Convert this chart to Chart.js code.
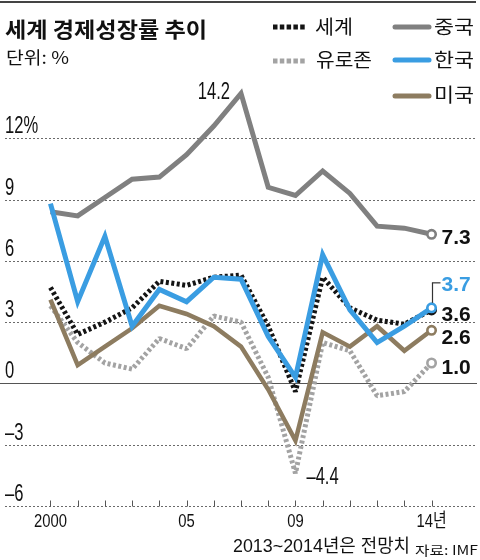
<!DOCTYPE html>
<html><head><meta charset="utf-8">
<script src="https://cdn.jsdelivr.net/npm/chart.js@4.4.1/dist/chart.umd.min.js"></script>
<style>html,body{margin:0;padding:0;background:#fff}canvas{display:block}</style>
</head><body>
<canvas id="c" width="480" height="560"></canvas>
<script>
// ---- data ----
const years = [2000, 2001, 2002, 2003, 2004, 2005, 2006, 2007, 2008, 2009, 2010, 2011, 2012, 2013, 2014];
const world = [4.7, 2.4, 3.0, 3.7, 5.0, 4.8, 5.2, 5.3, 2.8, -0.4, 5.2, 3.7, 3.1, 2.9, 3.6];
const euro  = [3.8, 2.0, 1.0, 0.7, 2.2, 1.7, 3.3, 3.0, 0.3, -4.4, 2.0, 1.6, -0.6, -0.4, 1.0];
const china = [8.4, 8.2, 9.1, 10.0, 10.1, 11.2, 12.6, 14.2, 9.6, 9.2, 10.4, 9.3, 7.7, 7.6, 7.3];
const korea = [8.8, 4.0, 7.2, 2.8, 4.6, 4.0, 5.2, 5.1, 2.3, 0.3, 6.3, 3.6, 2.0, 2.8, 3.7];
const usa   = [4.1, 0.9, 1.8, 2.7, 3.8, 3.4, 2.8, 1.8, -0.3, -2.8, 2.5, 1.8, 2.8, 1.6, 2.6];
const seriesNames = ['세계', '유로존', '중국', '한국', '미국'];
const yTicks = [-6, -3, 0, 3, 6, 9, 12];
const yTickLabels = ['–6', '–3', '0', '3', '6', '9', '12%'];
const xLabelYears = [2000, 2005, 2009, 2014];
const xLabelTexts = ['2000', '05', '09', '14년'];
const titleText = '세계 경제성장률 추이';
const unitText = '단위: %';
const noteText = '2013~2014년은 전망치';
const sourceText = '자료: IMF';

// ---- style ----
const C = {world:'#141414', euro:'#a3a3a3', china:'#808080', korea:'#3a9de2', usa:'#8d7c60'};
const NUM = "'Liberation Sans', 'Noto Sans CJK KR', sans-serif";
const KR = "'Noto Sans CJK KR', sans-serif";
const DOT = [3, 2.5];

function txt(ctx, s, x, y, font, color, align, sx, baseline) {
  ctx.save();
  ctx.font = font; ctx.fillStyle = color; ctx.textBaseline = baseline || 'alphabetic';
  ctx.textAlign = 'left';
  const w = ctx.measureText(s).width * sx;
  const x0 = align === 'left' ? x : align === 'right' ? x - w : x - w / 2;
  ctx.translate(x0, y); ctx.scale(sx, 1);
  ctx.fillText(s, 0, 0);
  ctx.restore();
}
function fit(ctx, s, x, y, font, color, width, baseline) {
  ctx.save(); ctx.font = font; const w = ctx.measureText(s).width; ctx.restore();
  txt(ctx, s, x, y, font, color, 'left', width / w, baseline);
}
function seg(ctx, x1, y1, x2, y2, color, w, dash, cap) {
  ctx.save(); ctx.strokeStyle = color; ctx.lineWidth = w; ctx.setLineDash(dash || []);
  ctx.lineCap = cap || 'butt';
  ctx.beginPath(); ctx.moveTo(x1, y1); ctx.lineTo(x2, y2); ctx.stroke(); ctx.restore();
}

const pts = arr => years.map((yr, i) => ({x: yr, y: arr[i]}));
const last = years.length - 1;
function ds(label, arr, color, width, dash, order) {
  return {
    label, data: pts(arr), borderColor: color, borderWidth: width, borderDash: dash || [],
    borderJoinStyle: dash ? 'bevel' : 'miter', borderCapStyle: 'butt', tension: 0, order,
    pointRadius: c => c.dataIndex === last ? 4.2 : 0,
    pointHoverRadius: 0, pointBorderWidth: 2.6, pointBorderColor: color,
    pointBackgroundColor: '#fff', fill: false
  };
}

const decor = {
  id: 'decor',
  beforeDatasetsDraw(chart) {
    const {ctx, scales: {x, y}} = chart;
    yTicks.forEach((v, i) => {
      const py = Math.round(y.getPixelForValue(v)) + 0.5;
      if (v === 0) seg(ctx, 0, py, 477, py, '#555', 1.2);
      else seg(ctx, 5, py, 477, py, '#6a6a6a', 1, [2, 2]);
      txt(ctx, yTickLabels[i], 5, py - 5.5, '23px ' + NUM, '#111', 'left', 0.72);
    });
    const by = Math.round(y.getPixelForValue(-6)) + 0.5;
    years.forEach(yr => {
      const px = Math.round(x.getPixelForValue(yr)) + 0.5;
      seg(ctx, px, by, px, by - 6, '#555', 1);
    });
    xLabelYears.forEach((yr, i) => {
      txt(ctx, xLabelTexts[i], x.getPixelForValue(yr), 527, '19px ' + NUM, '#111', 'center', 0.78);
    });
  },
  afterDatasetsDraw(chart) {
    const {ctx, scales: {x, y}} = chart;
    const ex = x.getPixelForValue(years[last]);
    const lab = (arr, dy, color) => {
      const v = arr[last];
      txt(ctx, v.toFixed(1), ex + 10, y.getPixelForValue(v) + dy, 'bold 21px ' + NUM, color, 'left', 1.0);
    };
    lab(china, 9.5, '#111');
    lab(korea, -17, C.korea);
    lab(world, 11.5, '#111');
    lab(usa, 14, '#111');
    lab(euro, 10.5, '#111');
    // bracket for Korea label
    const ky = y.getPixelForValue(korea[last]);
    const bx = Math.round(ex) + 0.5;
    seg(ctx, bx, ky - 25, bx, ky - 5, '#333', 1.2);
    seg(ctx, bx - 0.6, ky - 25, bx + 8, ky - 25, '#333', 1.2);
    // China peak
    const ci = china.indexOf(Math.max(...china));
    txt(ctx, china[ci].toFixed(1), x.getPixelForValue(years[ci]) - 11, y.getPixelForValue(china[ci]) + 6,
        '23px ' + NUM, '#111', 'right', 0.72);
    // Euro trough
    const mv = Math.min(...euro), ei = euro.indexOf(mv);
    txt(ctx, '–' + Math.abs(mv).toFixed(1), x.getPixelForValue(years[ei]) + 11, y.getPixelForValue(mv) + 10.5,
        '23px ' + NUM, '#111', 'left', 0.72);
  },
  afterDraw(chart) {
    const ctx = chart.ctx;
    ctx.save(); ctx.fillStyle = '#444'; ctx.fillRect(0, 1, 476, 2); ctx.restore();
    fit(ctx, titleText, 5, 29, 'bold 21px ' + KR, '#111', 202, 'middle');
    fit(ctx, unitText, 6, 58, '17px ' + KR, '#111', 63, 'middle');
    // legend
    seg(ctx, 273, 27, 306, 27, C.world, 5, [4.5, 2.3]);
    seg(ctx, 273, 61, 306, 61, C.euro, 5, [4.5, 2.3]);
    seg(ctx, 395, 27, 429, 27, C.china, 5, [], 'round');
    seg(ctx, 395, 60, 429, 60, C.korea, 5, [], 'round');
    seg(ctx, 395, 96, 429, 96, C.usa, 5, [], 'round');
    fit(ctx, seriesNames[0], 315, 27, '19px ' + KR, '#111', 38, 'middle');
    fit(ctx, seriesNames[1], 316, 60, '19px ' + KR, '#111', 56, 'middle');
    fit(ctx, seriesNames[2], 434, 27, '19px ' + KR, '#111', 40, 'middle');
    fit(ctx, seriesNames[3], 434, 60, '19px ' + KR, '#111', 40, 'middle');
    fit(ctx, seriesNames[4], 434, 95, '19px ' + KR, '#111', 40, 'middle');
    // footer
    fit(ctx, noteText, 233, 547, '18px ' + NUM, '#111', 177, 'middle');
    fit(ctx, sourceText, 415, 550, '13px ' + KR, '#111', 63, 'middle');
  }
};

new Chart(document.getElementById('c'), {
  type: 'line',
  data: {
    datasets: [
      ds(seriesNames[3], korea, C.korea, 5, null, 0),
      ds(seriesNames[0], world, C.world, 5, DOT, 1),
      ds(seriesNames[2], china, C.china, 5, null, 2),
      ds(seriesNames[4], usa, C.usa, 4.5, null, 3),
      ds(seriesNames[1], euro, C.euro, 5, DOT, 4)
    ]
  },
  options: {
    responsive: false, animation: false, devicePixelRatio: 1,
    layout: {padding: {left: 5, right: 5, top: 77, bottom: 54}},
    scales: {
      x: {type: 'linear', display: false, min: 1998.396, max: 2015.53},
      y: {type: 'linear', display: false, min: -6, max: 15}
    },
    plugins: {legend: {display: false}, tooltip: {enabled: false}},
    events: []
  },
  plugins: [decor]
});
</script>
</body></html>
